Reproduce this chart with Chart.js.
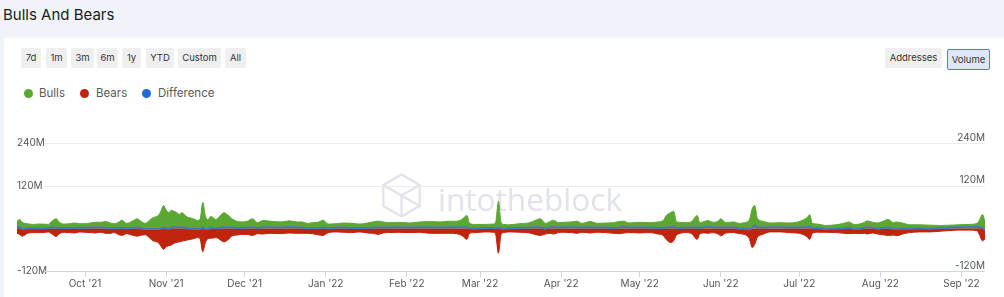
<!DOCTYPE html>
<html>
<head>
<meta charset="utf-8">
<script src="https://cdn.jsdelivr.net/npm/chart.js@4.4.0/dist/chart.umd.min.js"></script>
<style>
  html, body { margin:0; padding:0; width:1004px; height:297px; overflow:hidden; background:#f0f3fa; font-family:Inter, "Noto Sans", sans-serif; }
  #panel { position:absolute; left:4px; top:38px; width:1000px; height:259px; background:#ffffff; }
  #title { position:absolute; left:3px; top:5px; font-size:15px; color:#1c1c1c; line-height:20px; }
  .btn { position:absolute; top:48px; height:20px; line-height:20px; background:#efefef; color:#333; font-size:9.5px; text-align:center; border-radius:2px; }
  .leg { position:absolute; top:86px; height:14px; line-height:14px; font-size:11.5px; color:#595959; }
  .dot { position:absolute; top:89px; width:9px; height:9px; border-radius:50%; }
  #c { position:absolute; left:0; top:0; }
</style>
</head>
<body>
<div id="panel"></div>
<div id="title">Bulls And Bears</div>
<div class="btn" style="left:21px;width:20px;">7d</div>
<div class="btn" style="left:46px;width:21px;">1m</div>
<div class="btn" style="left:71px;width:23px;">3m</div>
<div class="btn" style="left:97px;width:21px;">6m</div>
<div class="btn" style="left:122px;width:19px;">1y</div>
<div class="btn" style="left:146px;width:28px;">YTD</div>
<div class="btn" style="left:178px;width:43px;">Custom</div>
<div class="btn" style="left:225px;width:21px;">All</div>
<div class="btn" style="left:885px;width:57px;">Addresses</div>
<div class="btn" style="left:947px;top:49px;width:41px;height:19px;line-height:19px;background:#dfe7f5;border:1px solid #5b7cb8;">Volume</div>
<div class="dot" style="left:24px;background:#5aa832;"></div><div class="leg" style="left:39px;">Bulls</div>
<div class="dot" style="left:80px;background:#c0240c;"></div><div class="leg" style="left:96px;">Bears</div>
<div class="dot" style="left:142px;background:#1f6ad4;"></div><div class="leg" style="left:158px;">Difference</div>
<canvas id="c" width="1004" height="297"></canvas>
<script>
// ---- data (values in millions) ----
const dates = [
'2021-09-05','2021-09-06','2021-09-07','2021-09-09','2021-09-11','2021-09-13','2021-09-15','2021-09-17','2021-09-18','2021-09-20','2021-09-21','2021-09-23','2021-09-25','2021-09-27','2021-09-29',
'2021-10-01','2021-10-03','2021-10-05','2021-10-07','2021-10-09','2021-10-11','2021-10-12','2021-10-14','2021-10-15','2021-10-17','2021-10-19','2021-10-21','2021-10-22','2021-10-24','2021-10-26','2021-10-27','2021-10-29','2021-10-30','2021-10-31',
'2021-11-01','2021-11-02','2021-11-03','2021-11-04','2021-11-05','2021-11-06','2021-11-07','2021-11-09','2021-11-11','2021-11-12','2021-11-13','2021-11-14','2021-11-15','2021-11-16','2021-11-17','2021-11-18','2021-11-19','2021-11-20','2021-11-22','2021-11-23','2021-11-25','2021-11-26','2021-11-28','2021-11-30',
'2021-12-02','2021-12-04','2021-12-06','2021-12-08','2021-12-11','2021-12-15','2021-12-18','2021-12-21','2021-12-23','2021-12-25','2021-12-27','2021-12-29','2021-12-31',
'2022-01-02','2022-01-05','2022-01-08','2022-01-11','2022-01-14','2022-01-17','2022-01-19','2022-01-21','2022-01-23','2022-01-25','2022-01-29',
'2022-02-02','2022-02-06','2022-02-10','2022-02-14','2022-02-17','2022-02-20','2022-02-22','2022-02-24','2022-02-25','2022-02-27',
'2022-03-03','2022-03-06','2022-03-07','2022-03-08','2022-03-09','2022-03-10','2022-03-12','2022-03-16','2022-03-20','2022-03-22','2022-03-24','2022-03-26','2022-03-28','2022-03-29','2022-03-31',
'2022-04-02','2022-04-05','2022-04-07','2022-04-09','2022-04-12','2022-04-15','2022-04-18','2022-04-21','2022-04-23','2022-04-25','2022-04-27',
'2022-05-01','2022-05-05','2022-05-08','2022-05-10','2022-05-11','2022-05-13','2022-05-14','2022-05-15','2022-05-16','2022-05-19','2022-05-21','2022-05-23','2022-05-24','2022-05-26','2022-05-27','2022-05-29','2022-05-31',
'2022-06-01','2022-06-03','2022-06-06','2022-06-08','2022-06-10','2022-06-12','2022-06-13','2022-06-14','2022-06-15','2022-06-17','2022-06-20','2022-06-24','2022-06-27','2022-06-30',
'2022-07-02','2022-07-04','2022-07-05','2022-07-06','2022-07-08','2022-07-11','2022-07-15','2022-07-18','2022-07-20','2022-07-22','2022-07-24','2022-07-26','2022-07-27','2022-07-29','2022-07-31',
'2022-08-02','2022-08-04','2022-08-06','2022-08-07','2022-08-10','2022-08-12','2022-08-16','2022-08-20','2022-08-24','2022-08-28','2022-08-31',
'2022-09-04','2022-09-07','2022-09-08','2022-09-09','2022-09-10'
];
const bulls = [
20,25,17,13,11,12,12,11,18,27,18,12,13,15,13,
13,15,17,17,19,14,13,18,23,14,20,27,22,14,25,30,36,48,64,
52,44,51,48,45,39,44,32,28,25,22,26,73,35,24,33,30,25,38,44,35,28,20,18,
20,27,16,22,20,18,21,18,18,14,16,17,23,
12,13,15,14,12,15,18,20,18,16,17,
15,18,19,18,20,20,25,36,14,11,
11,12,18,76,18,11,10,13,16,22,27,14,20,23,16,
17,18,20,14,19,14,15,16,19,20,15,
17,16,18,22,34,45,48,20,17,16,20,36,16,20,22,17,20,
27,16,18,14,16,25,55,64,28,20,15,16,15,17,
22,30,38,14,12,8,10,14,18,11,12,17,21,17,15,
20,25,16,18,14,10,10,9,8,9,10,
11,14,25,39,20
];
const bears = [
-14,-17,-22,-14,-12,-12,-12,-10,-14,-23,-16,-11,-12,-13,-10,
-11,-12,-13,-11,-14,-14,-12,-18,-20,-15,-19,-22,-20,-18,-29,-35,-40,-50,-59,
-52,-49,-47,-42,-40,-38,-36,-33,-30,-28,-26,-30,-66,-40,-29,-28,-27,-26,-34,-38,-30,-22,-19,-17,
-17,-20,-15,-16,-14,-15,-13,-14,-14,-14,-15,-18,-20,
-12,-10,-11,-12,-10,-13,-14,-17,-13,-12,-11,
-12,-11,-14,-14,-14,-15,-20,-31,-14,-12,
-10,-11,-18,-70,-18,-12,-10,-11,-13,-17,-20,-16,-14,-16,-12,
-11,-12,-14,-11,-13,-11,-12,-14,-15,-13,-12,
-13,-12,-16,-20,-30,-40,-35,-20,-15,-12,-16,-31,-15,-13,-14,-12,-16,
-21,-13,-12,-15,-17,-30,-54,-45,-25,-17,-10,-10,-12,-13,
-16,-24,-31,-14,-11,-11,-12,-14,-15,-14,-15,-14,-16,-13,-16,
-18,-20,-19,-21,-15,-12,-10,-10,-8,-6,-5,
-5,-7,-20,-35,-30
];
const difference = [
3,4,-2,0,0,0,0,1,2,2,1,1,1,1,2,
1,2,2,3,2,0,1,0,2,0,1,2,1,-2,-2,-2,-2,-1,2,
0,-2,2,3,3,1,4,0,-1,-2,-2,-2,3,-2,-2,2,1,0,2,3,2,3,1,1,
2,3,1,3,3,2,4,2,2,0,1,0,2,
0,2,2,1,1,1,2,2,2,2,3,
2,3,3,2,3,3,3,3,0,-1,
1,1,0,3,0,-1,0,1,2,3,3,-1,3,4,2,
3,3,3,2,3,2,2,1,2,4,2,
2,2,1,1,2,3,6,0,1,2,2,3,1,3,4,3,2,
3,2,3,-1,-1,-3,0,9,2,2,3,3,2,2,
3,3,4,0,1,-2,-1,0,2,-2,-2,2,3,2,-1,
1,3,-2,-2,-1,-1,0,-1,0,2,3,
3,4,3,2,-5
];
const monthTicks = ['2021-10-01','2021-11-01','2021-12-01','2022-01-01','2022-02-01','2022-03-01','2022-04-01','2022-05-01','2022-06-01','2022-07-01','2022-08-01','2022-09-01'];
const monthLabels = ["Oct '21","Nov '21","Dec '21","Jan '22","Feb '22","Mar '22","Apr '22","May '22","Jun '22","Jul '22","Aug '22","Sep '22"];
const yTickValues = [-120, 0, 120, 240];
const xStart = '2021-09-05', xEnd = '2022-09-10';

// ---- helpers ----
const BASE = Date.UTC(2021, 9, 1);
function dayOffset(s) { const [y, m, d] = s.split('-').map(Number); return (Date.UTC(y, m - 1, d) - BASE) / 86400000; }
const n = Math.min(dates.length, bulls.length, bears.length, difference.length);
const pts = arr => { const o = []; for (let i = 0; i < n; i++) o.push({ x: dayOffset(dates[i]), y: arr[i] }); return o; };
const fmtY = v => v === 0 ? '0' : v + 'M';

Chart.defaults.font.family = 'Inter, "Noto Sans", sans-serif';

const decor = {
  id: 'decor',
  beforeDatasetsDraw(chart) {
    const { ctx, chartArea: a } = chart;
    const y = chart.scales.y;
    const gx0 = 44, gx1 = a.right;
    ctx.save();
    // watermark
    ctx.strokeStyle = '#e1e3ec'; ctx.lineWidth = 2.2;
    const cx = 401.5, cy = 195.5, r = 21;
    ctx.beginPath();
    for (let k = 0; k < 6; k++) { const ang = Math.PI / 180 * (-90 + 60 * k); const px = cx + r * Math.cos(ang), py = cy + r * Math.sin(ang); k ? ctx.lineTo(px, py) : ctx.moveTo(px, py); }
    ctx.closePath(); ctx.stroke();
    ctx.beginPath();
    [90, 210, 330].forEach(d => { const ang = Math.PI / 180 * d; ctx.moveTo(cx, cy); ctx.lineTo(cx + r * Math.cos(ang), cy + r * Math.sin(ang)); });
    ctx.moveTo(cx - r * 0.87, cy - r * 0.5); ctx.lineTo(cx + r * 0.87, cy + r * 0.5);
    ctx.stroke();
    ctx.fillStyle = '#e1e3eb';
    ctx.font = '31px "Open Sans", sans-serif';
    ctx.textBaseline = 'alphabetic';
    const wm = 'intotheblock';
    const w = ctx.measureText(wm).width;
    ctx.translate(438, 211); ctx.scale(184 / w, 1); ctx.fillText(wm, 0, 0);
    ctx.restore();
    ctx.save();
    // gridlines
    ctx.lineWidth = 1;
    ctx.strokeStyle = '#e9ebf1';
    [240, 120].forEach(v => { const py = Math.round(y.getPixelForValue(v)) + 0.5; ctx.beginPath(); ctx.moveTo(gx0, py); ctx.lineTo(gx1, py); ctx.stroke(); });
    ctx.strokeStyle = '#ccd6eb';
    const py = Math.round(y.getPixelForValue(-120)) + 0.5;
    ctx.beginPath(); ctx.moveTo(gx0, py); ctx.lineTo(gx1, py); ctx.stroke();
    ctx.restore();
  }
};

const yCommon = {
  type: 'linear', min: -120, max: 240,
  grid: { display: false }, border: { display: false },
  afterBuildTicks: s => { s.ticks = yTickValues.map(v => ({ value: v })); },
  afterFit: s => { s.width = 0; },
  z: 1
};

new Chart(document.getElementById('c'), {
  type: 'line',
  data: {
    datasets: [
      { label: 'Difference', data: pts(difference), borderColor: '#4379bd', borderWidth: 2, pointRadius: 0, fill: false, cubicInterpolationMode: 'monotone', order: 0 },
      { label: 'Bulls', data: pts(bulls), borderColor: '#5aa832', backgroundColor: '#5aa832', borderWidth: 1, pointRadius: 0, fill: 'origin', cubicInterpolationMode: 'monotone', order: 1 },
      { label: 'Bears', data: pts(bears), borderColor: '#c0240c', backgroundColor: '#c0240c', borderWidth: 1, pointRadius: 0, fill: 'origin', cubicInterpolationMode: 'monotone', order: 2 }
    ]
  },
  options: {
    responsive: false, animation: false, devicePixelRatio: 1,
    layout: { padding: { left: 17, right: 19, top: 143, bottom: 0 } },
    plugins: { legend: { display: false }, tooltip: { enabled: false } },
    scales: {
      x: {
        type: 'linear', position: 'bottom', min: dayOffset(xStart), max: dayOffset(xEnd),
        grid: { display: true, drawOnChartArea: false, drawTicks: true, tickLength: 6, color: '#ccd6eb' },
        border: { display: false },
        ticks: { autoSkip: false, maxRotation: 0, padding: 1, color: '#555', font: { size: 10 },
          callback: v => { const i = monthTicks.findIndex(t => dayOffset(t) === v); return i >= 0 ? monthLabels[i] : ''; } },
        afterBuildTicks: s => { s.ticks = monthTicks.map(t => ({ value: dayOffset(t) })); },
        afterFit: s => { s.height = 26; }
      },
      y: Object.assign({}, yCommon, { position: 'left', ticks: { mirror: true, padding: 0, color: '#555', font: { size: 10 }, callback: fmtY } }),
      y2: Object.assign({}, yCommon, { position: 'right', ticks: { mirror: true, padding: 0, labelOffset: -5.5, color: '#555', font: { size: 10 }, callback: fmtY } })
    }
  },
  plugins: [decor]
});
</script>
</body>
</html>
